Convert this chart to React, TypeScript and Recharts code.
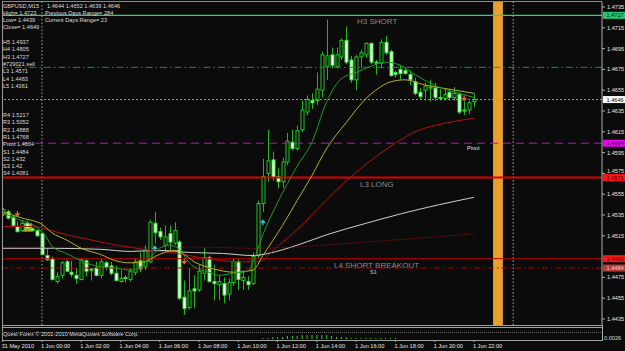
import React from 'react';
import { ComposedChart, Bar, Line, Scatter, XAxis, YAxis, ReferenceLine, ReferenceArea } from 'recharts';

const FONT = '"Liberation Sans", Arial, sans-serif';

// GBPUSD M15 candles, 31 May 22:00 .. 1 Jun 22:00
const opens = [
  1.4536, 1.4538, 1.4533, 1.4524, 1.452, 1.4527, 1.4522, 1.452, 1.4517, 1.4496,
  1.4493, 1.4471, 1.4477, 1.449, 1.448, 1.4477, 1.4473, 1.4491, 1.4483, 1.4484,
  1.4477, 1.4489, 1.4486, 1.4479, 1.4471, 1.4475, 1.4473, 1.448, 1.4491, 1.4485,
  1.449, 1.4527, 1.4519, 1.4506, 1.4517, 1.4508, 1.4509, 1.4456, 1.4446, 1.4464,
  1.4463, 1.4479, 1.4494, 1.4471, 1.4468, 1.4469, 1.4459, 1.447, 1.449, 1.4472,
  1.4471, 1.4469, 1.4496, 1.4546, 1.4575, 1.4588, 1.4572, 1.4567, 1.4586, 1.4605,
  1.4599, 1.4617, 1.4634, 1.4645, 1.4645, 1.4655, 1.4678, 1.4689, 1.4678, 1.4687,
  1.4703, 1.4684, 1.4665, 1.4687, 1.4689, 1.47, 1.4682, 1.4681, 1.4701, 1.4692,
  1.4672, 1.4675, 1.4674, 1.467, 1.4663, 1.4653, 1.4655, 1.4657, 1.4657, 1.4648,
  1.4647, 1.4653, 1.4648, 1.4651, 1.4636, 1.4636, 1.4644,
];
const highs = [
  1.4542, 1.454, 1.4535, 1.4529, 1.453, 1.453, 1.4523, 1.4521, 1.4518, 1.4503,
  1.4495, 1.448, 1.4491, 1.4492, 1.4491, 1.4484, 1.4493, 1.4493, 1.4484, 1.449,
  1.4493, 1.4491, 1.449, 1.4486, 1.4482, 1.4477, 1.4484, 1.4493, 1.4499, 1.4506,
  1.453, 1.4538, 1.4523, 1.4525, 1.4525, 1.4528, 1.4511, 1.4472, 1.4484, 1.4477,
  1.4487, 1.4503, 1.4496, 1.4487, 1.4477, 1.4475, 1.4474, 1.4493, 1.4493, 1.4482,
  1.4476, 1.4499, 1.4549, 1.4589, 1.4617, 1.4596, 1.458, 1.459, 1.4614, 1.4617,
  1.4621, 1.4645, 1.465, 1.4652, 1.4672, 1.4692, 1.4723, 1.4696, 1.4696, 1.4705,
  1.4716, 1.4688, 1.4689, 1.4694, 1.4701, 1.4701, 1.4684, 1.4704, 1.4707, 1.4694,
  1.4674, 1.4679, 1.4677, 1.4674, 1.4667, 1.4657, 1.4662, 1.4665, 1.4662, 1.4656,
  1.4657, 1.4656, 1.4658, 1.4653, 1.4645, 1.4645, 1.4652,
];
const lows = [
  1.4534, 1.4531, 1.4524, 1.4518, 1.4519, 1.452, 1.4519, 1.4514, 1.4496, 1.4491,
  1.4472, 1.4469, 1.4474, 1.448, 1.4475, 1.4469, 1.4472, 1.4476, 1.4472, 1.4476,
  1.4474, 1.4482, 1.4477, 1.4471, 1.447, 1.447, 1.4471, 1.4477, 1.448, 1.4482,
  1.4489, 1.4508, 1.4511, 1.4501, 1.4501, 1.4506, 1.4453, 1.4439, 1.4444, 1.4446,
  1.4461, 1.4472, 1.447, 1.4453, 1.4453, 1.445, 1.4453, 1.4467, 1.4463, 1.4463,
  1.4463, 1.4468, 1.4493, 1.4538, 1.4567, 1.4568, 1.4561, 1.4561, 1.4583, 1.4597,
  1.4597, 1.4615, 1.4631, 1.4637, 1.4641, 1.4648, 1.4665, 1.4676, 1.4676, 1.4684,
  1.468, 1.4662, 1.4655, 1.4676, 1.4686, 1.468, 1.467, 1.4676, 1.4689, 1.4668,
  1.4667, 1.4665, 1.467, 1.466, 1.465, 1.4646, 1.4645, 1.4644, 1.4645, 1.4645,
  1.4645, 1.4645, 1.4645, 1.4632, 1.4631, 1.4632, 1.4639,
];
const closes = [
  1.454, 1.4532, 1.4525, 1.4519, 1.4527, 1.4522, 1.452, 1.4515, 1.4497, 1.4492,
  1.4473, 1.4476, 1.4489, 1.4481, 1.4478, 1.4474, 1.4492, 1.4481, 1.4482, 1.4477,
  1.449, 1.4485, 1.4479, 1.4472, 1.4474, 1.4474, 1.4481, 1.449, 1.4483, 1.4502,
  1.4528, 1.4518, 1.4514, 1.4514, 1.4509, 1.452, 1.4455, 1.4445, 1.4462, 1.4462,
  1.4481, 1.4494, 1.4471, 1.4469, 1.4471, 1.4458, 1.447, 1.449, 1.4473, 1.4475,
  1.4468, 1.4495, 1.4546, 1.4572, 1.4587, 1.4571, 1.4567, 1.4586, 1.4606, 1.4599,
  1.4616, 1.4636, 1.4646, 1.4643, 1.4656, 1.4689, 1.4688, 1.4679, 1.4689, 1.4703,
  1.4682, 1.4665, 1.4687, 1.4691, 1.47, 1.4682, 1.4681, 1.4701, 1.4691, 1.4669,
  1.467, 1.4671, 1.4671, 1.4665, 1.4652, 1.4649, 1.4659, 1.4658, 1.4648, 1.4647,
  1.4651, 1.4648, 1.4652, 1.4634, 1.4635, 1.4643, 1.4646,
];

// moving averages: [bar index, price]
const fastMa = [
  [0, 1.4537], [3, 1.4531], [7, 1.4523], [9, 1.4513], [10, 1.4505], [13, 1.4498], [16, 1.4491],
  [20, 1.4485], [23, 1.4484], [26, 1.4482], [28, 1.4485], [30, 1.4494], [32, 1.4503], [34, 1.4506],
  [36, 1.4502], [38, 1.4489], [40, 1.4483], [42, 1.448], [44, 1.4477], [47, 1.4479], [50, 1.4481],
  [51, 1.449], [53, 1.4516], [56, 1.4547], [60, 1.4582], [63, 1.4605], [66, 1.4644], [69, 1.4666],
  [72, 1.4672], [75, 1.4678], [78, 1.4682], [81, 1.4679], [84, 1.467], [87, 1.4662], [90, 1.4656],
  [93, 1.4652], [96, 1.4648],
];
const midMa = [
  [0, 1.4538], [4, 1.4532], [8, 1.4526], [10, 1.4518], [13, 1.4511], [16, 1.4503], [20, 1.4497],
  [23, 1.4491], [26, 1.4489], [29, 1.449], [31, 1.4495], [33, 1.4499], [35, 1.4501], [37, 1.4497],
  [39, 1.449], [41, 1.4486], [44, 1.4482], [47, 1.448], [51, 1.4482], [53, 1.4496], [57, 1.4525],
  [60, 1.4549], [63, 1.4573], [66, 1.4599], [70, 1.4624], [74, 1.4647], [76, 1.4655], [79, 1.4663],
  [82, 1.4665], [86, 1.466], [91, 1.4656], [96, 1.4652],
];
const slowMa = [
  [0, 1.4524], [6, 1.4524], [10, 1.452], [13, 1.4516], [17, 1.4512], [21, 1.4508], [26, 1.4504],
  [30, 1.4501], [34, 1.4499], [38, 1.4496], [43, 1.4492], [48, 1.449], [52, 1.449], [56, 1.4505],
  [60, 1.4521], [64, 1.454], [68, 1.4559], [72, 1.4576], [76, 1.4591], [80, 1.4604], [84, 1.4615],
  [88, 1.4621], [92, 1.4625], [96, 1.4628],
];
const longMa = [
  [0, 1.4503], [10, 1.4503], [20, 1.4502], [26, 1.45], [32, 1.4501], [38, 1.4499], [45, 1.4498],
  [51, 1.4496], [54, 1.4498], [60, 1.4506], [66, 1.4516], [74, 1.4527], [81, 1.4536], [89, 1.4545],
  [96, 1.4552],
];
const dottedMa = [[0, 1.4504], [20, 1.4504], [40, 1.4504], [52, 1.4503], [74, 1.4509], [96, 1.4517]];

const signals = [
  { i: 3, p: 1.4536, kind: 'sell' },
  { i: 31, p: 1.4503, kind: 'buy' },
  { i: 37, p: 1.449, kind: 'sell' },
  { i: 53, p: 1.4528, kind: 'buy' },
  { i: 94, p: 1.4647, kind: 'sell' },
];

// small histogram in the lower window, bars 53..80
const subStart = 53;
const subValues = [1, 1, 2, 2, 2, 3, 3, 3, 4, 4, 4, 4, 4, 4, 3, 2, 2, 2, 1, 1, 1, 1, 1, 1, 1, 1, 1, 1];

const timeTickIdx = [0, 8, 16, 24, 32, 40, 48, 56, 64, 72, 80, 88, 96];
const timeLabels = [
  '31 May 2010', '1 Jun 00:00', '1 Jun 02:00', '1 Jun 04:00', '1 Jun 06:00', '1 Jun 08:00', '1 Jun 10:00',
  '1 Jun 12:00', '1 Jun 14:00', '1 Jun 16:00', '1 Jun 18:00', '1 Jun 20:00', '1 Jun 22:00',
];
const priceTicks = [
  1.4435, 1.4455, 1.4475, 1.4515, 1.4535, 1.4555, 1.4575, 1.4595, 1.4615, 1.4635, 1.4655, 1.4675,
  1.4695, 1.4715, 1.4735,
];

const levels = { h3: 1.4727, order: 1.4677, bid: 1.4646, pivot: 1.4604, l3: 1.4571, l4: 1.4493, s1: 1.4484 };
const boxedLevels = [levels.h3, levels.bid, levels.pivot, levels.l3, levels.l4, levels.s1];
const daySeparators = [8, 104];
const sessionBand = [99.9, 101.9];
const orderBox = { x1: 4.1, x2: 5.95, y1: 1.4519, y2: 1.4527 };

const headerQuote = '1.4644 1.4652 1.4639 1.4646';
const statLeft = ['High= 1.4723', 'Low= 1.4439', 'Close= 1.4649'];
const statRight = ['Previous Days Range= 284', 'Current Days Range= 23'];
const camarilla = ['H5 1.4937', 'H4 1.4805', 'H3 1.4727', '#729021 sell', 'L3 1.4571', 'L4 1.4483', 'L5 1.4361'];
const pivots = ['R4 1.5217', 'R3 1.5052', 'R2 1.4888', 'R1 1.4768', 'Pivot 1.4604', 'S1 1.4484', 'S2 1.432', 'S3 1.42', 'S4 1.4081'];

const W = 625;
const H = 351;
const AXIS_X = 602;
const X_DOMAIN = [-0.14, 122.09];
const Y_DOMAIN = [1.442923, 1.473981];

const candles = opens.map((o, i) => ({ i, open: o, high: highs[i], low: lows[i], close: closes[i] }));
const toRows = (pts: number[][]) => pts.map(([i, v]) => ({ i, v }));
const subRows = subValues.map((v, k) => ({ i: subStart + k, v }));

const Candle = (props: any) => {
  const { x, y, width, height, payload } = props;
  if (x == null || y == null || !payload) return null;
  const { open, close, high, low } = payload;
  const top = Math.min(y, y + height);
  const bot = Math.max(y, y + height);
  const span = high - low;
  const py = (p: number) => (span > 0 ? top + ((high - p) / span) * (bot - top) : top);
  const cx = Math.round(x + width / 2) + 0.5;
  const yo = py(open);
  const yc = py(close);
  const bull = close >= open;
  return (
    <g>
      <line x1={cx} x2={cx} y1={top} y2={bot} stroke="#1cb81c" strokeWidth={1} />
      <rect
        x={cx - 1.5}
        y={Math.min(yo, yc)}
        width={3}
        height={Math.max(Math.abs(yc - yo), 0.6)}
        fill={bull ? '#000000' : '#ffffff'}
        stroke={bull ? '#22c822' : '#35e835'}
        strokeWidth={1}
      />
    </g>
  );
};

const Arrow = (props: any) => {
  const { cx, cy, payload } = props;
  if (cx == null) return null;
  if (payload.kind === 'sell') {
    return (
      <g fill="#e0683c" stroke="#e0683c">
        <line x1={cx} x2={cx} y1={cy - 3} y2={cy} strokeWidth={1.2} />
        <path d={`M${cx - 2.5},${cy - 0.5}L${cx + 2.5},${cy - 0.5}L${cx},${cy + 2.5}Z`} strokeWidth={0.5} />
      </g>
    );
  }
  return (
    <g fill="#2ecfe0" stroke="#2ecfe0">
      <line x1={cx} x2={cx} y1={cy} y2={cy + 3} strokeWidth={1.2} />
      <path d={`M${cx - 2.5},${cy + 0.5}L${cx + 2.5},${cy + 0.5}L${cx},${cy - 2.5}Z`} strokeWidth={0.5} />
    </g>
  );
};

const PriceTick = (props: any) => {
  const { y, payload } = props;
  const v = Number(payload.value);
  // a tick label that sits next to a highlighted level is pushed clear of its box
  const near = boxedLevels.find((l) => Math.abs(l - v) < 0.0006);
  const shift = near === undefined ? 0 : near < v ? -2.5 : 2.5;
  return (
    <g>
      <line x1={AXIS_X} x2={AXIS_X + 3} y1={y} y2={y} stroke="#b0b0b0" />
      <text x={AXIS_X + 5} y={y + 2 + shift} fontSize={5.6} fill="#e6e6e6" fontFamily={FONT}>
        {v.toFixed(4)}
      </text>
    </g>
  );
};

const TimeTick = (props: any) => {
  const { x, payload } = props;
  const k = timeTickIdx.indexOf(payload.value);
  return (
    <g>
      <line x1={x} x2={x} y1={340} y2={342} stroke="#b0b0b0" />
      <text x={x - 1} y={348} fontSize={5.6} fill="#e6e6e6" fontFamily={FONT}>
        {timeLabels[k]}
      </text>
    </g>
  );
};

type Box = { text: string; bg: string; fg: string };
type Name = { text: string; dx: number; dy: number; size: number; color: string };

const levelLabel = (box: Box | null, name: Name | null) => (props: any) => {
  const vb = props.viewBox || {};
  const y = vb.y;
  const right = vb.x + vb.width;
  return (
    <g>
      {name && (
        <text x={vb.x + name.dx} y={y + name.dy} fontSize={name.size} fill={name.color} fontFamily={FONT}>
          {name.text}
        </text>
      )}
      {box && (
        <g>
          <rect x={right + 1} y={y - 3.5} width={22} height={7} fill={box.bg} />
          <text x={right + 4.5} y={y + 2} fontSize={5.6} fill={box.fg} fontFamily={FONT}>
            {box.text}
          </text>
        </g>
      )}
    </g>
  );
};

const txt = (x: number, y: number, s: string, key?: string) => (
  <text key={key} x={x} y={y} fontSize={5.6} fill="#dcdcdc" fontFamily={FONT}>
    {s}
  </text>
);

export default function App() {
  return (
    <div style={{ position: 'fixed', left: 0, top: 0, width: W, height: H, background: '#0b0b0b', overflow: 'hidden' }}>
      <div style={{ position: 'absolute', left: 0, top: 0 }}>
        <ComposedChart width={W} height={H} data={candles} margin={{ top: 2, right: 0, left: 2, bottom: 0 }}>
          <XAxis
            type="number"
            dataKey="i"
            domain={X_DOMAIN}
            allowDataOverflow
            ticks={timeTickIdx}
            interval={0}
            tick={<TimeTick />}
            tickLine={false}
            axisLine={false}
            height={26}
          />
          <YAxis
            orientation="right"
            domain={Y_DOMAIN}
            allowDataOverflow
            ticks={priceTicks}
            interval={0}
            tick={<PriceTick />}
            tickLine={false}
            axisLine={{ stroke: '#b0b0b0' }}
            width={23}
          />
          <ReferenceArea x1={sessionBand[0]} x2={sessionBand[1]} fill="#e8a030" fillOpacity={1} stroke="none" />
          <ReferenceArea x1={orderBox.x1} x2={orderBox.x2} y1={orderBox.y1} y2={orderBox.y2} fill="#e0a028" fillOpacity={1} stroke="none" />
          {daySeparators.map((d) => (
            <ReferenceLine key={d} x={d} stroke="#a8a8a8" strokeDasharray="1.5 2" />
          ))}
          <ReferenceLine
            y={levels.h3}
            stroke="#24d67c"
            strokeWidth={1.2}
            label={levelLabel({ text: '1.4727', bg: '#22c873', fg: '#002010' }, { text: 'H3 SHORT', dx: 355, dy: 8.5, size: 8, color: '#8a8a8a' })}
          />
          <ReferenceLine y={levels.order} stroke="#13973a" strokeDasharray="7 3 1.5 3" />
          <ReferenceLine y={levels.bid} stroke="#9a9a9a" strokeDasharray="2 2" label={levelLabel({ text: '1.4646', bg: '#ffffff', fg: '#000000' }, null)} />
          <ReferenceLine
            y={levels.pivot}
            stroke="#d000d0"
            strokeDasharray="8 5"
            label={levelLabel({ text: '1.4604', bg: '#f000f0', fg: '#300030' }, { text: 'Pivot', dx: 465, dy: 6.5, size: 5.6, color: '#e0e0e0' })}
          />
          <ReferenceLine
            y={levels.l3}
            stroke="#e00000"
            strokeWidth={2}
            label={levelLabel({ text: '1.4571', bg: '#ff1414', fg: '#300000' }, { text: 'L3 LONG', dx: 358, dy: 9.5, size: 8, color: '#8a8a8a' })}
          />
          <ReferenceLine
            y={levels.l4}
            stroke="#b00000"
            label={levelLabel({ text: '1.4493', bg: '#ff1414', fg: '#300000' }, { text: 'L4 SHORT BREAKOUT', dx: 332, dy: 9, size: 8, color: '#8a8a8a' })}
          />
          <ReferenceLine
            y={levels.s1}
            stroke="#b00000"
            strokeDasharray="6 3 1.5 3"
            label={levelLabel({ text: '1.4484', bg: '#b83a3a', fg: '#f0d0d0' }, { text: 'S1', dx: 368, dy: 5.5, size: 5.6, color: '#c8c8c8' })}
          />
          <Bar dataKey={(d: any) => [d.low, d.high]} barSize={3} shape={<Candle />} isAnimationActive={false} />
          <Line data={toRows(longMa)} dataKey="v" type="monotone" stroke="#cfcfcf" strokeWidth={1} dot={false} isAnimationActive={false} />
          <Line data={toRows(dottedMa)} dataKey="v" type="monotone" stroke="#c41010" strokeWidth={1} strokeDasharray="1 2" dot={false} isAnimationActive={false} />
          <Line data={toRows(slowMa)} dataKey="v" type="monotone" stroke="#b01212" strokeWidth={1} dot={false} isAnimationActive={false} />
          <Line data={toRows(midMa)} dataKey="v" type="monotone" stroke="#b4b41c" strokeWidth={1} dot={false} isAnimationActive={false} />
          <Line data={toRows(fastMa)} dataKey="v" type="monotone" stroke="#1e9c1e" strokeWidth={1} dot={false} isAnimationActive={false} />
          <Scatter data={signals} dataKey="p" shape={<Arrow />} isAnimationActive={false} />
        </ComposedChart>
      </div>
      <div style={{ position: 'absolute', left: 0, top: 328 }}>
        <ComposedChart width={W} height={11} data={subRows} margin={{ top: 0, right: 23, left: 2, bottom: 0 }}>
          <XAxis type="number" dataKey="i" domain={X_DOMAIN} allowDataOverflow hide />
          <YAxis domain={[0, 11]} allowDataOverflow hide />
          <Bar dataKey="v" barSize={1} fill="#2ad02a" isAnimationActive={false} />
        </ComposedChart>
      </div>
      <svg width={W} height={H} style={{ position: 'absolute', left: 0, top: 0, pointerEvents: 'none' }}>
        <line x1={2} x2={AXIS_X} y1={1.5} y2={1.5} stroke="#8a8a8a" />
        <line x1={2.5} x2={2.5} y1={1} y2={341} stroke="#9a9a9a" />
        <line x1={2} x2={AXIS_X} y1={325.5} y2={325.5} stroke="#a0a0a0" />
        <line x1={2} x2={AXIS_X} y1={327.5} y2={327.5} stroke="#a0a0a0" />
        <line x1={2} x2={AXIS_X} y1={332.5} y2={332.5} stroke="#6a6a6a" strokeDasharray="1 1" />
        <line x1={2} x2={AXIS_X} y1={340.5} y2={340.5} stroke="#a0a0a0" />
        <line x1={AXIS_X + 0.5} x2={AXIS_X + 0.5} y1={325} y2={341} stroke="#b0b0b0" />
        {txt(3, 336, 'Quest Forex © 2001-2010 MetaQuotes Software Corp.')}
        {txt(604, 340, '0.0026')}
        {txt(3, 8, 'GBPUSD,M15')}
        {txt(47, 8, headerQuote)}
        {statLeft.map((s, k) => txt(3, 15 + k * 7, s, 'l' + k))}
        {statRight.map((s, k) => txt(45, 15 + k * 7, s, 'r' + k))}
        {camarilla.map((s, k) => txt(3, 44 + k * 7.3, s, 'c' + k))}
        {pivots.map((s, k) => txt(3, 117 + k * 7.3, s, 'p' + k))}
      </svg>
    </div>
  );
}
